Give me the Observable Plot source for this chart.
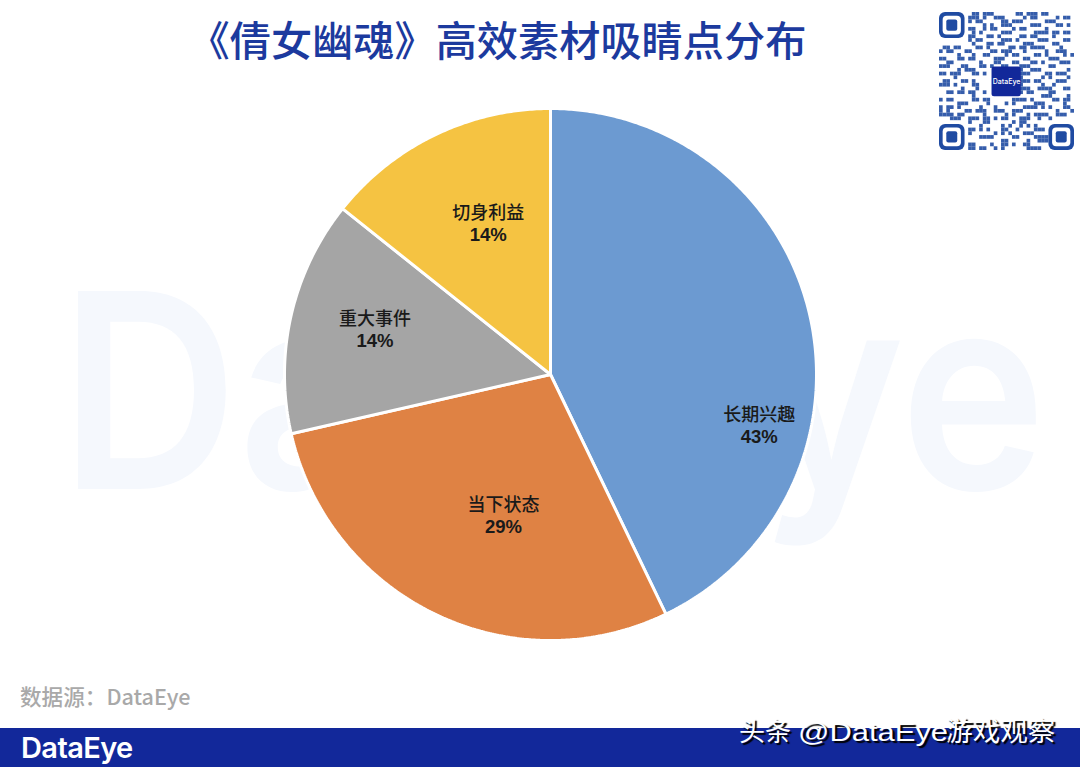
<!DOCTYPE html>
<html lang="zh">
<head>
<meta charset="utf-8">
<script src="https://cdn.jsdelivr.net/npm/d3@7"></script>
<script src="https://cdn.jsdelivr.net/npm/@observablehq/plot@0.6"></script>
<style>
  html, body { margin: 0; padding: 0; background: #fff; }
  #page { position: relative; width: 1080px; height: 767px; overflow: hidden; font-family: "Noto Sans CJK SC", sans-serif; }
  #page > * { position: absolute; }
  #mark { left: 60px; top: 220px; font: 600 272px/340px Inter, sans-serif; color: #f5f8fd; white-space: nowrap; transform-origin: 0 0; }
  #title { left: 188.5px; top: 9px; font-size: 41.2px; line-height: 58px; font-weight: 500; color: #1c3a9e; white-space: nowrap; }
  #chart { left: 0; top: 88px; }
  #qr { left: 939px; top: 12px; }
  #source { left: 20px; top: 680px; font-size: 21.6px; line-height: 32px; font-weight: 500; color: #a9a9a9; white-space: nowrap; }
  #bar { left: 0; top: 728px; width: 1080px; height: 39px; background: #12289a; }
  #logo { left: 21px; top: 729px; font: 600 29px/38px Inter, sans-serif; letter-spacing: -0.6px; color: #fff; white-space: nowrap; }
  #stamp { left: 739px; top: 713px; font: 400 26px/38px "Liberation Sans", "Noto Sans CJK SC", sans-serif; color: #fff; text-shadow: 2px 2px 1px #000; white-space: nowrap; }
  #stamp .lat { display: inline-block; width: 147px; transform: scaleX(1.19); transform-origin: 0 50%; }
  #stamp .cjk { font-size: 27.5px; }
</style>
</head>
<body>
<div id="page">
  <div id="mark">DataEye</div>
  <div id="title">《倩女幽魂》高效素材吸睛点分布</div>
  <div id="chart"></div>
  <div id="qr"></div>
  <div id="source">数据源：DataEye</div>
  <div id="bar"></div>
  <div id="logo">DataEye</div>
  <div id="stamp">头条 <span class="lat">@DataEye</span><span class="cjk">游戏观察</span></div>
</div>
<script>
// ---- chart data ----
const categories = ["长期兴趣", "当下状态", "重大事件", "切身利益"];
const counts = [3, 2, 1, 1];
const colors = ["#6c9ad1", "#df8244", "#a5a5a5", "#f5c342"];
// where the reference places each label, in pie radii from the centre
const labelX = [0.785, -0.177, -0.660, -0.234];
const labelY = [-0.194, -0.532, 0.168, 0.566];
// ---- QR modules ----
const qrRows = [
  "........##.##..#.#......####.........",
  "........##....#..##.#..##............",
  ".................##.....#..###.......",
  "...........####.....##....####.......",
  "........#......#.#.#...###...........",
  "........##.#.#...##..#....###........",
  "...........#.....#.#..#.#.#..........",
  "........#...##......#.##.............",
  "...###..###.##.#.##...###..#..#......",
  "####.##.....#.....#.#...#.####..###..",
  "#.#....##.###..###..###.........#...#",
  "#.##.#.....#...#.......####.#.#...##.",
  ".....###.....#....#.#.....###.....#..",
  "#.##.....##.##......####.#.....##.##.",
  ".........#..................###....#.",
  "..##.##.##..#.........#.##....##.....",
  "......#...#...........###..####...##.",
  "###.#....##...........#.....#..#.....",
  ".##...##.#............###.##....###..",
  "....#..........#......#.....#.#....#.",
  "##.###...##.#.........###....##.###..",
  ".....#.###............#..###.......#.",
  "###...##...##.#..##...###.....##.....",
  "..##.......#...##...##...##.#....###.",
  "##...##.##.....###.....##.....###....",
  ".....#...#..##....#.##....##.#....#.#",
  "#.##...##.....##.###...#.....#..###..",
  ".##.##....##.#.....##.##.####....#...",
  ".........#...##.##.....###.....##....",
  "........#.##.....###.#.....###....##.",
  "........##...##.#.....##.##....#.....",
  ".........#.#.....###......####.##.##.",
  "........##..#.##....#.##.....#.......",
  "............#.#..###.....###....##.#.",
  "........#.##.....##.###......###.....",
  "........###.#..###.....#.##.....#.##.",
  ".........##.###......##.###.##.......",
];
const qrFinders = [[0, 0], [30, 0], [0, 30]];
const qrBlue = "#1f4ba2";

// ---- pie ----
const pct = d3.format(".0%");
const total = d3.sum(counts);
const arcs = d3.pie().sort(null)(counts);
const slices = arcs.map((a, i) => {
  const n = Math.ceil((a.endAngle - a.startAngle) / (Math.PI / 360));
  const rim = d3.range(n + 1).map(k => {
    const t = a.startAngle + (a.endAngle - a.startAngle) * k / n;
    return [Math.sin(t), Math.cos(t)];
  });
  return {
    type: "Polygon",
    coordinates: [[[0, 0], ...rim, [0, 0]]],
    category: categories[i]
  };
});
const labels = categories.map((c, i) => ({
  category: c, share: pct(counts[i] / total), x: labelX[i], y: labelY[i]
}));

const pie = Plot.plot({
  width: 1080,
  height: 590,
  margin: 0,
  style: { background: "transparent" },
  projection: d3.geoIdentity().reflectY(true).scale(266).translate([550, 286]),
  color: { domain: categories, range: colors },
  marks: [
    Plot.geo(slices, { fill: d => d.category, stroke: "#fff", strokeWidth: 3, strokeLinejoin: "miter" }),
    Plot.text(labels, { x: "x", y: "y", text: "category", dy: -10.5, fontSize: 18, fontWeight: 500, fill: "#1a1a1a", fontFamily: "'Noto Sans CJK SC'" }),
    Plot.text(labels, { x: "x", y: "y", text: "share", dy: 11, fontSize: 18.5, fontWeight: 700, fill: "#1a1a1a", fontFamily: "'Liberation Sans'" })
  ]
});
document.getElementById("chart").append(pie);

// ---- QR ----
const qrModules = qrRows.flatMap((row, r) =>
  Array.from(row).flatMap((ch, c) => ch === "#" ? [{ c, r }] : []));
const qrBox = (inset, fill, rx) => Plot.rect(qrFinders, {
  x1: d => d[0] + inset, x2: d => d[0] + 7 - inset,
  y1: d => d[1] + inset, y2: d => d[1] + 7 - inset,
  fill, rx
});
const qr = Plot.plot({
  width: 135,
  height: 138,
  margin: 0,
  style: { background: "transparent" },
  x: { domain: [0, 37], axis: null },
  y: { domain: [0, 37], axis: null },
  marks: [
    Plot.rect(qrModules, { x1: "c", x2: d => d.c + 1, y1: "r", y2: d => d.r + 1, fill: qrBlue, fillOpacity: 0.9 }),
    qrBox(0, qrBlue, 6), qrBox(1, "#fff", 4), qrBox(2, qrBlue, 2),
    Plot.rect([[14.4, 14.4]], { x1: d => d[0], x2: d => d[0] + 8, y1: d => d[1], y2: d => d[1] + 8, fill: "#12289a", rx: 2.5 }),
    Plot.text(["DataEye"], { x: 18.4, y: 18.4, text: d => d, fill: "#fff", fontSize: 7, fontWeight: 500, fontFamily: "Inter" })
  ]
});
document.getElementById("qr").append(qr);

// fit the pale background word to the reference width
const mark = document.getElementById("mark");
mark.style.transform = `scaleX(${986 / mark.getBoundingClientRect().width})`;
</script>
</body>
</html>
